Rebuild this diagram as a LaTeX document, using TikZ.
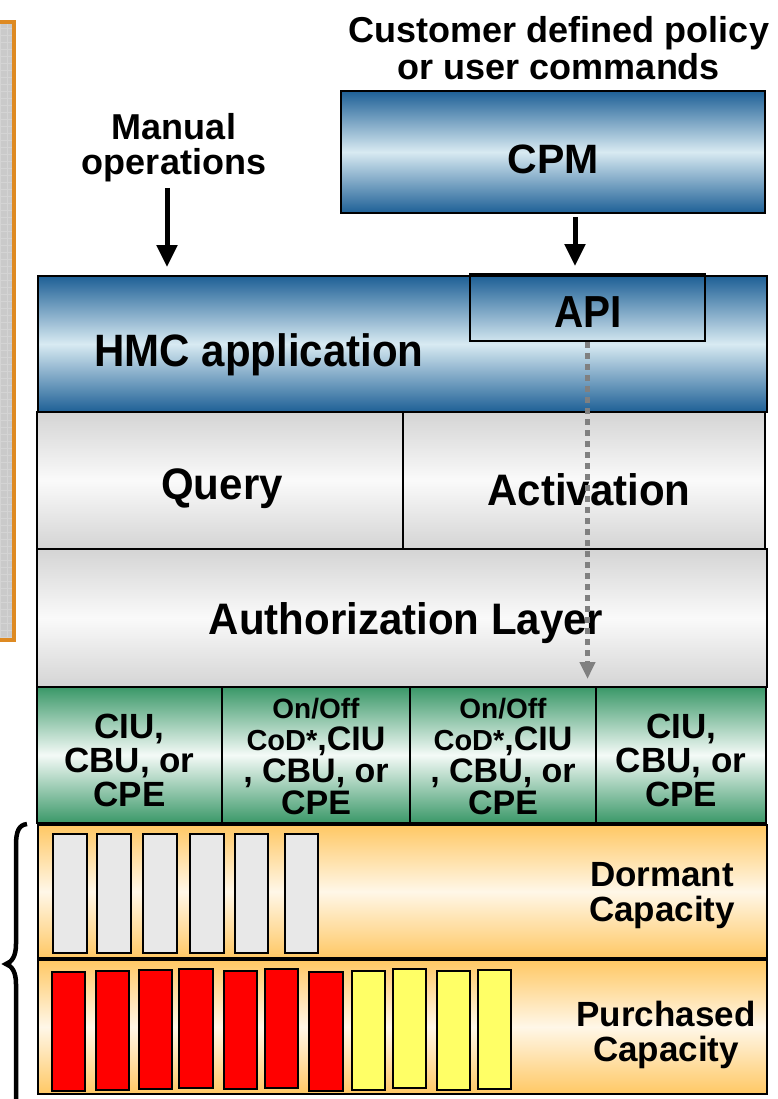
\documentclass[tikz,border=0pt]{standalone}
\usepackage{fontspec}
\setmainfont{Liberation Sans}
\usetikzlibrary{arrows.meta}
\definecolor{bluedk}{RGB}{30,96,150}
\definecolor{bluelt}{RGB}{216,234,242}
\definecolor{greendk}{RGB}{58,152,104}
\definecolor{greenlt}{RGB}{244,250,247}
\definecolor{graydk}{RGB}{212,212,212}
\definecolor{graylt}{RGB}{250,250,250}
\definecolor{orangedk}{RGB}{255,200,100}
\definecolor{orangelt}{RGB}{255,247,232}
\definecolor{frameorange}{RGB}{222,138,34}
\definecolor{panelgray}{RGB}{202,202,202}
\definecolor{panelgrid}{RGB}{212,212,212}
\definecolor{barlgray}{RGB}{232,232,232}
\definecolor{baryellow}{RGB}{255,255,102}
\definecolor{dotgray}{RGB}{128,128,128}
\begin{document}
\begin{tikzpicture}[x=1pt,y=-1pt,
  boxbase/.style={draw=black, line width=2pt, inner sep=0pt, anchor=center},
  bluebox/.style={boxbase, top color=bluedk, bottom color=bluedk, middle color=bluelt},
  graybox/.style={boxbase, top color=graydk, bottom color=graydk, middle color=graylt},
  greenbox/.style={boxbase, top color=greendk, bottom color=greendk, middle color=greenlt},
  orangebox/.style={boxbase, top color=orangedk, bottom color=orangedk, middle color=orangelt},
  txt/.style={inner sep=0pt, align=center, font=\bfseries},
  bigarrow/.style={line width=5pt, -{Triangle[length=22pt,width=20pt]}},
  dotarrow/.style={dotgray, line width=5pt, dash pattern=on 6pt off 5pt, -{Triangle[length=17pt,width=15pt]}},
  bar/.style={draw=black, line width=2pt}
]
\useasboundingbox (0,0) rectangle (777,1099);

% left panel
\fill[panelgray] (-5,22) rectangle (14,640);
\draw[panelgrid, line width=0.5pt, step=7pt] (-5,22) grid (14,640);
\draw[frameorange, line width=4pt] (-5,22) rectangle (14,640);

% top texts
\node[txt, font=\bfseries\fontsize{36}{37}\selectfont] (policy) at (559,48) {Customer defined policy\\or user commands};
\node[txt, font=\bfseries\fontsize{36}{35}\selectfont] (manual) at (174,148) {Manual\\operations};

% CPM
\node[bluebox, minimum width=424pt, minimum height=122pt] (cpm) at (553,152) {};
\node[txt, font=\bfseries\fontsize{41}{41}\selectfont] (cpmtext) at (553,159) {CPM};

% HMC application layer
\node[bluebox, minimum width=729pt, minimum height=136pt] (hmc) at (402.5,344) {};
\node[txt, font=\bfseries\fontsize{42}{42}\selectfont] (hmctext) at (259,355) {\scalebox{1}[1.08]{HMC application}};
\node[boxbase, minimum width=235pt, minimum height=67pt] (api) at (587.5,307.5) {};
\node[txt, font=\bfseries\fontsize{44}{44}\selectfont] (apitext) at (588,312) {\scalebox{0.92}[1.02]{API}};

% Query / Activation
\node[graybox, minimum width=366pt, minimum height=137pt] (query) at (220,480.5) {};
\node[graybox, minimum width=362pt, minimum height=137pt] (activation) at (584,480.5) {};
\node[txt, font=\bfseries\fontsize{42}{42}\selectfont] (querytext) at (222,489) {\scalebox{1}[1.05]{Query}};
\node[txt, font=\bfseries\fontsize{42}{42}\selectfont] (acttext) at (589,490) {\scalebox{1}[1.05]{Activation}};

% Authorization layer
\node[graybox, minimum width=730pt, minimum height=138pt] (auth) at (402,618) {};
\node[txt, font=\bfseries\fontsize{42}{42}\selectfont] (authtext) at (406,623) {\scalebox{1}[1.05]{Authorization Layer}};

% green boxes
\node[greenbox, minimum width=185pt, minimum height=136pt] (g1) at (129.5,755) {};
\node[greenbox, minimum width=188pt, minimum height=136pt] (g2) at (316,755) {};
\node[greenbox, minimum width=186pt, minimum height=136pt] (g3) at (503,755) {};
\node[greenbox, minimum width=170pt, minimum height=136pt] (g4) at (681,755) {};
\node[txt, font=\bfseries\fontsize{35}{34}\selectfont] (g1text) at (129.5,760) {CIU,\\CBU, or\\CPE};
\node[txt, font=\bfseries\fontsize{34}{32}\selectfont] (g2text) at (316,757) {{\fontsize{28}{32}\selectfont On/Off}\\{\fontsize{29}{32}\selectfont CoD*},CIU\\, CBU, or\\CPE};
\node[txt, font=\bfseries\fontsize{34}{32}\selectfont] (g3text) at (503,757) {{\fontsize{28}{32}\selectfont On/Off}\\{\fontsize{29}{32}\selectfont CoD*},CIU\\, CBU, or\\CPE};
\node[txt, font=\bfseries\fontsize{35}{34}\selectfont] (g4text) at (681,760) {CIU,\\CBU, or\\CPE};

% capacity boxes
\node[orangebox, minimum width=729pt, minimum height=133pt] (dormant) at (402.5,891.5) {};
\node[orangebox, minimum width=729pt, minimum height=134pt] (purchased) at (402.5,1027) {};
\node[txt, font=\bfseries\fontsize{35}{35}\selectfont] (dormtext) at (662,896) {Dormant\\Capacity};
\node[txt, font=\bfseries\fontsize{35}{35}\selectfont] (purtext) at (666,1035) {Purchased\\Capacity};

% dormant bars
\foreach \a/\b in {53/87,97/131,143/177,190/224,235/268,285/318}
  \draw[bar, fill=barlgray] (\a,834) rectangle (\b,953);
% purchased bars
\foreach \a/\b/\t/\u in {52/85/972/1091,96/129/971/1090,139/172/970/1089,179/213/969/1088,224/257/971/1089,265/298/969/1088,309/343/972/1091}
  \draw[bar, fill=red] (\a,\t) rectangle (\b,\u);
\foreach \a/\b/\t/\u in {352/385/971/1090,393/426/969/1088,437/470/971/1090,478/511/970/1089}
  \draw[bar, fill=baryellow] (\a,\t) rectangle (\b,\u);

% brace
\draw[line width=4.5pt] (27,824) .. controls (19,825) and (16,831) .. (16,845) -- (16,944)
  .. controls (16,956) and (12,962) .. (6,964) .. controls (12,966) and (16,972) .. (16,984) -- (16,1110);

% arrows
\coordinate (mtop) at (167,188);
\draw[bigarrow, shorten >=8pt] (mtop) -- (mtop |- hmc.north);
\coordinate (ctop) at (575,217);
\draw[bigarrow, shorten >=7pt] (ctop) -- (ctop |- api.north);
\draw[dotarrow, shorten >=9pt] (api.south) -- (api.south |- auth.south);
\end{tikzpicture}
\end{document}
